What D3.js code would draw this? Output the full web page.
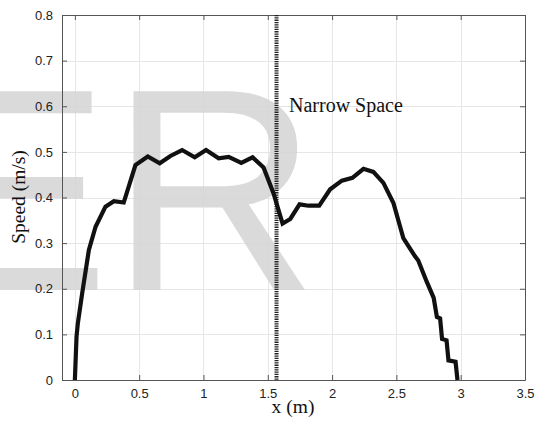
<!DOCTYPE html>
<html><head><meta charset="utf-8">
<script src="https://cdn.jsdelivr.net/npm/d3@7"></script>
<style>html,body{margin:0;padding:0;background:#fff;}</style>
</head><body>
<svg id="chart" width="542" height="421"></svg>
<script>
const xValues = [0, 0.013, 0.023, 0.057, 0.109, 0.161, 0.238, 0.303, 0.38, 0.471, 0.567, 0.66, 0.743, 0.834, 0.932, 1.02, 1.118, 1.196, 1.294, 1.382, 1.467, 1.545, 1.615, 1.675, 1.747, 1.817, 1.9, 1.985, 2.076, 2.158, 2.244, 2.321, 2.399, 2.477, 2.554, 2.645, 2.67, 2.735, 2.79, 2.815, 2.84, 2.855, 2.89, 2.905, 2.96, 2.975];
const speedValues = [0, 0.095, 0.124, 0.19, 0.285, 0.336, 0.38, 0.392, 0.389, 0.471, 0.49, 0.475, 0.491, 0.504, 0.488, 0.504, 0.486, 0.489, 0.476, 0.488, 0.466, 0.409, 0.343, 0.353, 0.385, 0.382, 0.382, 0.418, 0.437, 0.443, 0.463, 0.456, 0.432, 0.388, 0.311, 0.271, 0.262, 0.216, 0.18, 0.138, 0.135, 0.09, 0.087, 0.043, 0.04, 0];
const xTicks = [0, 0.5, 1, 1.5, 2, 2.5, 3, 3.5];
const yTicks = [0, 0.1, 0.2, 0.3, 0.4, 0.5, 0.6, 0.7, 0.8];
const narrowX = [1.568];
const annotation = ["Narrow Space"];
const watermark = ["ER"];

const svg = d3.select("#chart");
const L = 62, R = 525, T = 15, B = 380;
const x = d3.scaleLinear().domain([-0.1, 3.5]).range([L, R]);
const y = d3.scaleLinear().domain([0, 0.8]).range([B, T]);

// grid
const g = svg.append("g");
g.selectAll(".gx").data(xTicks).enter().append("line")
  .attr("x1", d => Math.round(x(d)) + 0.5).attr("x2", d => Math.round(x(d)) + 0.5)
  .attr("y1", T).attr("y2", B).attr("stroke", "#e6e6e6").attr("stroke-width", 1);
g.selectAll(".gy").data(yTicks).enter().append("line")
  .attr("y1", d => Math.round(y(d)) + 0.5).attr("y2", d => Math.round(y(d)) + 0.5)
  .attr("x1", L).attr("x2", R).attr("stroke", "#e6e6e6").attr("stroke-width", 1);

// watermark
svg.append("text").text(watermark[0])
  .attr("x", -83).attr("y", 290)
  .attr("font-family", "Liberation Sans, Arial, sans-serif")
  .attr("font-size", 289).attr("fill", "#d4d4d4").attr("fill-opacity", 0.85);

// axes with inward ticks
const fmt = d => d3.format("")(d);
const tickFont = "Liberation Sans, Arial, sans-serif";
const axB = svg.append("g").attr("transform", `translate(0,${B})`)
  .call(d3.axisBottom(x).tickValues(xTicks).tickSizeInner(-5).tickSizeOuter(0).tickPadding(9).tickFormat(fmt));
const axT = svg.append("g").attr("transform", `translate(0,${T})`)
  .call(d3.axisTop(x).tickValues(xTicks).tickSizeInner(-5).tickSizeOuter(0).tickFormat(""));
const axL = svg.append("g").attr("transform", `translate(${L},0)`)
  .call(d3.axisLeft(y).tickValues(yTicks).tickSizeInner(-5).tickSizeOuter(0).tickPadding(9).tickFormat(fmt));
const axR = svg.append("g").attr("transform", `translate(${R},0)`)
  .call(d3.axisRight(y).tickValues(yTicks).tickSizeInner(-5).tickSizeOuter(0).tickFormat(""));
[axB, axT, axL, axR].forEach(a => {
  a.selectAll(".domain").attr("stroke", "#555");
  a.selectAll(".tick line").attr("stroke", "#555");
  a.selectAll("text").attr("font-family", tickFont).attr("font-size", 13).attr("fill", "#222");
});

// narrow space line
svg.selectAll(".narrow").data(narrowX).enter().append("line")
  .attr("x1", d => x(d)).attr("x2", d => x(d)).attr("y1", T).attr("y2", B)
  .attr("stroke", "#222").attr("stroke-width", 4).attr("stroke-dasharray", "1.3,1");

// speed line
const line = d3.line().x((d, i) => x(xValues[i])).y(d => y(d));
svg.append("path").datum(speedValues).attr("d", line)
  .attr("fill", "none").attr("stroke", "#111").attr("stroke-width", 4.2)
  .attr("stroke-linejoin", "miter").attr("stroke-linecap", "butt");

// annotation
svg.append("text").text(annotation[0])
  .attr("x", 289).attr("y", 112)
  .attr("font-family", "Liberation Serif, Times New Roman, serif")
  .attr("font-size", 20).attr("fill", "#111");

// axis labels
svg.append("text").text("x (m)")
  .attr("x", 293).attr("y", 413).attr("text-anchor", "middle")
  .attr("font-family", "Liberation Serif, Times New Roman, serif")
  .attr("font-size", 19.5).attr("fill", "#111");
svg.append("text").text("Speed (m/s)")
  .attr("transform", `translate(25,197) rotate(-90)`).attr("text-anchor", "middle")
  .attr("font-family", "Liberation Serif, Times New Roman, serif")
  .attr("font-size", 19.5).attr("fill", "#111");
</script>
</body></html>
